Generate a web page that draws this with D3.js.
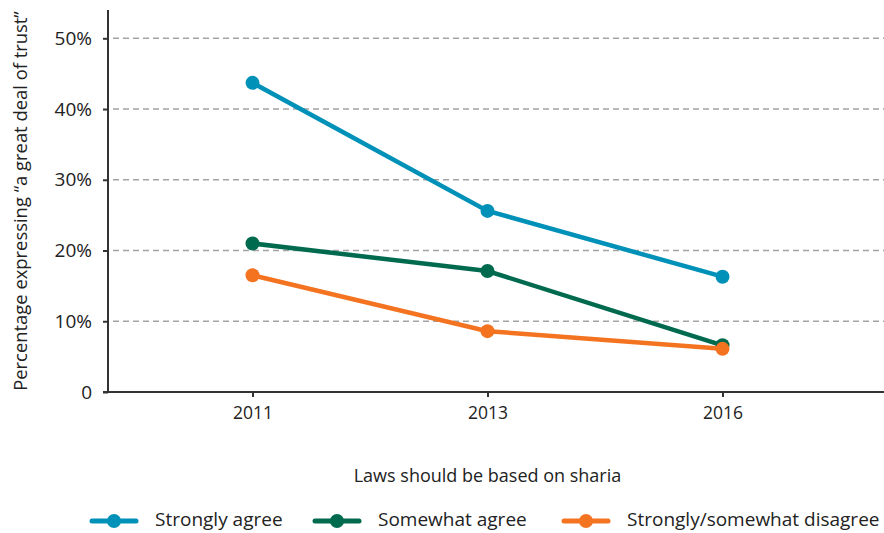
<!DOCTYPE html>
<html>
<head>
<meta charset="utf-8">
<script src="https://cdn.jsdelivr.net/npm/d3@7"></script>
<style>
  body { margin: 0; background: #fff; }
  svg text { font-family: "Open Sans", "DejaVu Sans", sans-serif; fill: #222; }
</style>
</head>
<body>
<div id="chart"></div>
<script>
// data
const years = ["2011", "2013", "2016"];
const seriesNames = ["Strongly agree", "Somewhat agree", "Strongly/somewhat disagree"];
const stronglyAgree = [43.7, 25.6, 16.3];
const somewhatAgree = [21.0, 17.1, 6.6];
const disagree = [16.5, 8.6, 6.1];
const yTicks = [0, 10, 20, 30, 40, 50];
const colors = ["#0091b8", "#006a4f", "#f47321"];

const w = 884;
const h = 533;

const series = [stronglyAgree, somewhatAgree, disagree].map((vals, i) => ({
  name: seriesNames[i],
  color: colors[i],
  values: vals.map((v, j) => ({ year: years[j], value: v }))
}));

const svg = d3.select("#chart")
  .append("svg")
  .attr("width", w)
  .attr("height", h);

// scales
const x = d3.scalePoint()
  .domain(years)
  .range([252.5, 722.5]);

const y = d3.scaleLinear()
  .domain([0, 54])
  .range([392, 10]);

const axisX = 108;

// gridlines
svg.append("g")
  .selectAll("line")
  .data(yTicks.filter(d => d > 0))
  .enter()
  .append("line")
  .attr("x1", axisX + 5)
  .attr("x2", w)
  .attr("y1", d => y(d))
  .attr("y2", d => y(d))
  .attr("stroke", "#a3a3a3")
  .attr("stroke-width", 1.5)
  .attr("stroke-dasharray", "6,4");

// y axis
const yAxis = d3.axisLeft(y)
  .tickValues(yTicks)
  .tickFormat(d => d === 0 ? "0" : d + "%")
  .tickSize(5)
  .tickPadding(11);

const gy = svg.append("g")
  .attr("transform", `translate(${axisX},0)`)
  .call(yAxis);
gy.select(".domain").remove();
gy.append("line")
  .attr("x1", 0).attr("x2", 0)
  .attr("y1", y.range()[1]).attr("y2", y(0))
  .attr("stroke", "#333").attr("stroke-width", 2);
gy.selectAll(".tick line").attr("stroke", "#333").attr("stroke-width", 2);
gy.selectAll(".tick text")
  .attr("font-size", 19)
  .attr("fill", "#222");

// x axis
const xAxis = d3.axisBottom(x)
  .tickSize(5)
  .tickPadding(10);

const gx = svg.append("g")
  .attr("transform", `translate(0,${y(0)})`)
  .call(xAxis);
gx.select(".domain").remove();
gx.append("line")
  .attr("x1", axisX - 5).attr("x2", w)
  .attr("stroke", "#333").attr("stroke-width", 2);
gx.selectAll(".tick line").attr("stroke", "#333").attr("stroke-width", 2);
gx.selectAll(".tick text")
  .attr("font-size", 17.5)
  .attr("fill", "#222");

// axis titles
svg.append("text")
  .attr("transform", `translate(27,${(y.range()[1] + y(0)) / 2}) rotate(-90)`)
  .attr("text-anchor", "middle")
  .attr("font-size", 18.4)
  .text("Percentage expressing \u201ca great deal of trust\u201d");

svg.append("text")
  .attr("x", x("2013"))
  .attr("y", 477)
  .attr("text-anchor", "middle")
  .attr("dominant-baseline", "middle")
  .attr("font-size", 18)
  .text("Laws should be based on sharia");

// lines and dots
const line = d3.line()
  .x(d => x(d.year))
  .y(d => y(d.value));

const sg = svg.append("g")
  .selectAll("g")
  .data(series)
  .enter()
  .append("g");

sg.append("path")
  .attr("d", d => line(d.values))
  .attr("fill", "none")
  .attr("stroke", d => d.color)
  .attr("stroke-width", 4.5);

sg.selectAll("circle")
  .data(d => d.values.map(v => ({ ...v, color: d.color })))
  .enter()
  .append("circle")
  .attr("cx", d => x(d.year))
  .attr("cy", d => y(d.value))
  .attr("r", 7)
  .attr("fill", d => d.color);

// legend
const legendX = [92, 315, 564];
const legend = svg.append("g")
  .selectAll("g")
  .data(series)
  .enter()
  .append("g")
  .attr("transform", (d, i) => `translate(${legendX[i]},521)`);

legend.append("line")
  .attr("x1", 0).attr("x2", 44)
  .attr("stroke", d => d.color)
  .attr("stroke-width", 5)
  .attr("stroke-linecap", "round");

legend.append("circle")
  .attr("cx", 22)
  .attr("r", 7)
  .attr("fill", d => d.color);

legend.append("text")
  .attr("x", 63)
  .attr("dominant-baseline", "middle")
  .attr("font-size", 19)
  .text(d => d.name);
</script>
</body>
</html>
